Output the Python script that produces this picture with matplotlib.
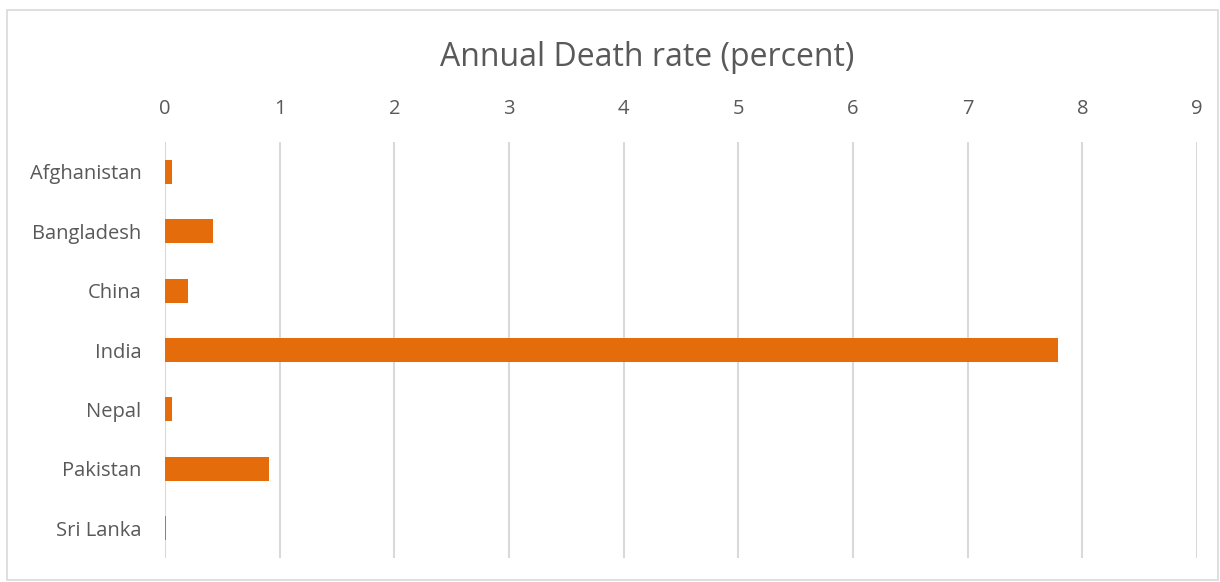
import matplotlib
matplotlib.use('Agg')
import matplotlib.pyplot as plt
import matplotlib.patches as mpatches

countries = ['Afghanistan', 'Bangladesh', 'China', 'India', 'Nepal', 'Pakistan', 'Sri Lanka']
death_rate = [0.06, 0.42, 0.20, 7.79, 0.06, 0.91, 0.01]
xticks = list(range(0, 10))

plt.rcParams['font.family'] = ['Open Sans', 'DejaVu Sans']

fig = plt.figure(figsize=(12.2, 5.82), dpi=100)
# chart border
fig.patches.append(mpatches.Rectangle((7/1220, 2/582), 1211/1220, 570/582, transform=fig.transFigure,
                                      fill=False, edgecolor='#d9d9d9', linewidth=1.2))

ax = fig.add_axes([165/1220, 1 - 557.7/582, (1197 - 165)/1220, (557.7 - 142.3)/582])
y = list(range(len(countries)))
ax.barh(y, death_rate, height=0.4, color='#e46c0a', zorder=3)
ax.set_ylim(len(countries) - 0.5, -0.5)
ax.set_xlim(0, 9)
ax.set_xticks(xticks)
ax.set_yticks(y)
ax.set_yticklabels(countries)
ax.xaxis.tick_top()
ax.grid(axis='x', color='#d9d9d9', linewidth=1.5, zorder=0)
for s in ax.spines.values():
    s.set_visible(False)
ax.tick_params(axis='both', length=0, labelsize=14.5, labelcolor='#595959')
ax.tick_params(axis='x', pad=17)
ax.tick_params(axis='y', pad=17)

fig.text(0.5 * (437 + 858) / 1220, 1 - 57/582, 'Annual Death rate (percent)', ha='center', va='center',
         fontsize=23, color='#595959')

fig.savefig('out.png', dpi=100)
